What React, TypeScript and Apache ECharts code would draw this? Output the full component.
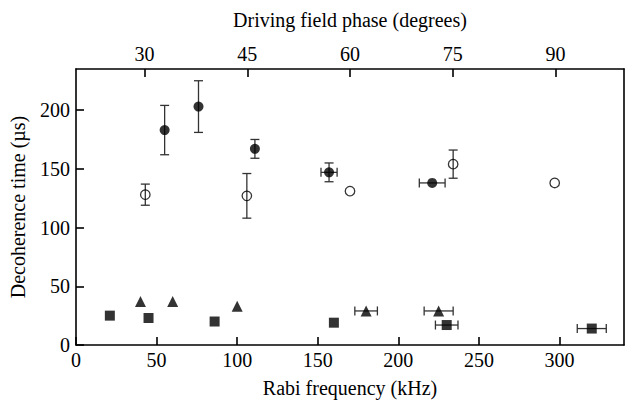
import React, { useEffect, useRef } from "react";
import * as echarts from "echarts";

// [Rabi frequency kHz, decoherence time µs, x error, y error]
const filledCircles = [
  [55, 183, 0, 21],
  [76, 203, 0, 22],
  [111, 167, 0, 8],
  [157, 147, 5, 8],
  [221, 138, 8, 0],
];
const openCircles = [
  [43, 128, 0, 9],
  [106, 127, 0, 19],
  [170, 131, 0, 0],
  [234, 154, 0, 12],
  [297, 138, 0, 0],
];
const triangles = [
  [40, 37, 0, 0],
  [60, 37, 0, 0],
  [100, 33, 0, 0],
  [180, 29, 7, 0],
  [225, 29, 9, 0],
];
const squares = [
  [21, 25, 0, 0],
  [45, 23, 0, 0],
  [86, 20, 0, 0],
  [160, 19, 0, 0],
  [230, 17, 7, 0],
  [320, 14, 9, 0],
];

const xTicks = [0, 50, 100, 150, 200, 250, 300];
const yTicks = [0, 50, 100, 150, 200];
const phaseTicks = [30, 45, 60, 75, 90];

const FONT = "'Liberation Serif', 'Times New Roman', serif";

export default function App() {
  const ref = useRef<HTMLDivElement>(null);
  useEffect(() => {
    if (!ref.current) return;
    const chart = echarts.init(ref.current, null, { renderer: "svg" });
    const allErr = [...filledCircles, ...openCircles, ...triangles, ...squares];
    const labelStyle = { fontFamily: FONT, fontSize: 20, color: "#000" };
    const lineStyle = { color: "#000", width: 1.6 };
    chart.setOption({
      animation: false,
      backgroundColor: "#fff",
      textStyle: { fontFamily: FONT, fontSize: 20, color: "#000" },
      grid: { left: 73, right: 2, top: 69, bottom: 57, containLabel: false },
      xAxis: [
        {
          type: "value",
          position: "bottom",
          min: 0,
          max: 340,
          name: "Rabi frequency (kHz)",
          nameLocation: "middle",
          nameGap: 33,
          nameTextStyle: labelStyle,
          axisLine: { show: true, lineStyle },
          axisTick: { inside: true, length: 8, lineStyle, customValues: xTicks },
          axisLabel: { ...labelStyle, margin: 5, customValues: xTicks },
          splitLine: { show: false },
        },
        {
          type: "value",
          position: "top",
          min: 20,
          max: 100,
          name: "Driving field phase (degrees)",
          nameLocation: "middle",
          nameGap: 39,
          nameTextStyle: labelStyle,
          axisLine: { show: true, onZero: false, lineStyle },
          axisTick: { inside: true, length: 8, lineStyle, customValues: phaseTicks },
          axisLabel: { ...labelStyle, margin: 5, customValues: phaseTicks },
          splitLine: { show: false },
        },
      ],
      yAxis: [
        {
          type: "value",
          position: "left",
          min: 0,
          max: 235,
          name: "Decoherence time (µs)",
          nameLocation: "middle",
          nameGap: 48,
          nameTextStyle: labelStyle,
          axisLine: { show: true, lineStyle },
          axisTick: { inside: true, length: 8, lineStyle, customValues: yTicks },
          axisLabel: { ...labelStyle, margin: 6, customValues: yTicks },
          splitLine: { show: false },
        },
        {
          type: "value",
          position: "right",
          min: 0,
          max: 235,
          axisLine: { show: true, onZero: false, lineStyle },
          axisTick: { show: false },
          axisLabel: { show: false },
          splitLine: { show: false },
        },
      ],
      series: [
        {
          type: "custom",
          xAxisIndex: 0,
          yAxisIndex: 0,
          z: 1,
          data: allErr,
          renderItem: (params: any, api: any) => {
            const x = api.value(0);
            const y = api.value(1);
            const xe = api.value(2);
            const ye = api.value(3);
            const style = { stroke: "#333", lineWidth: 1.3 };
            const cap = 4.5;
            const children: any[] = [];
            if (ye > 0) {
              const t = api.coord([x, y + ye]);
              const b = api.coord([x, y - ye]);
              children.push({ type: "line", shape: { x1: t[0], y1: t[1], x2: b[0], y2: b[1] }, style });
              children.push({ type: "line", shape: { x1: t[0] - cap, y1: t[1], x2: t[0] + cap, y2: t[1] }, style });
              children.push({ type: "line", shape: { x1: b[0] - cap, y1: b[1], x2: b[0] + cap, y2: b[1] }, style });
            }
            if (xe > 0) {
              const l = api.coord([x - xe, y]);
              const r = api.coord([x + xe, y]);
              children.push({ type: "line", shape: { x1: l[0], y1: l[1], x2: r[0], y2: r[1] }, style });
              children.push({ type: "line", shape: { x1: l[0], y1: l[1] - cap, x2: l[0], y2: l[1] + cap }, style });
              children.push({ type: "line", shape: { x1: r[0], y1: r[1] - cap, x2: r[0], y2: r[1] + cap }, style });
            }
            return { type: "group", children };
          },
        },
        {
          type: "scatter",
          z: 3,
          data: filledCircles.map((d) => [d[0], d[1]]),
          symbol: "circle",
          symbolSize: 10,
          itemStyle: { color: "#000" },
        },
        {
          type: "scatter",
          z: 3,
          data: openCircles.map((d) => [d[0], d[1]]),
          symbol: "circle",
          symbolSize: 9.5,
          itemStyle: { color: "transparent", borderColor: "#000", borderWidth: 1.3 },
        },
        {
          type: "scatter",
          z: 3,
          data: triangles.map((d) => [d[0], d[1]]),
          symbol: "triangle",
          symbolSize: 11,
          itemStyle: { color: "#000" },
        },
        {
          type: "scatter",
          z: 3,
          data: squares.map((d) => [d[0], d[1]]),
          symbol: "rect",
          symbolSize: 10,
          itemStyle: { color: "#000" },
        },
      ],
    });
    return () => chart.dispose();
  }, []);
  return (
    <div
      ref={ref}
      style={{ position: "fixed", left: 0, top: 0, width: 626, height: 403, background: "#fff" }}
    />
  );
}
